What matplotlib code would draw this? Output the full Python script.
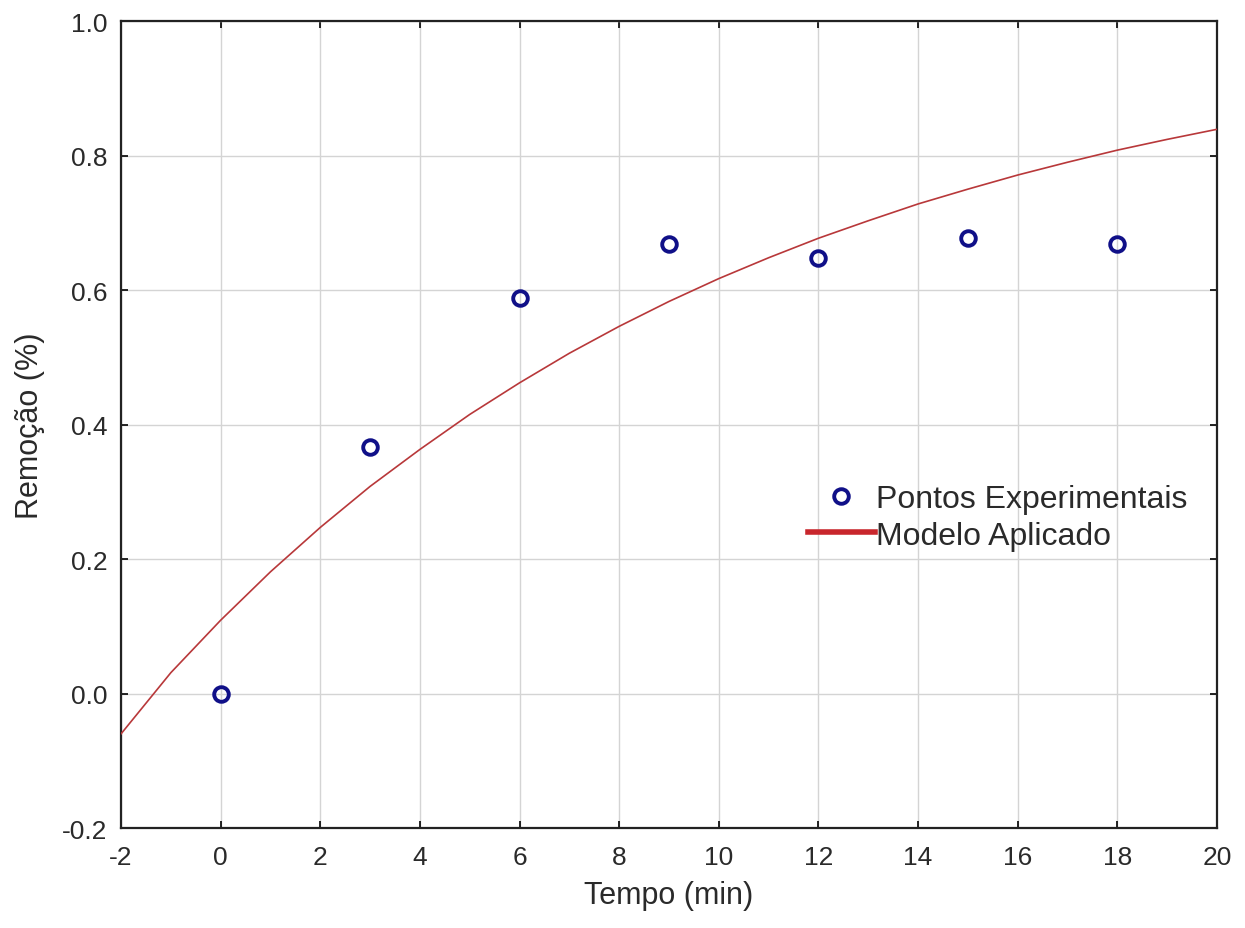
import matplotlib.pyplot as plt
from matplotlib.lines import Line2D

plt.rcParams['font.family'] = ['Liberation Sans', 'DejaVu Sans']
plt.rcParams['axes.unicode_minus'] = False

# pontos experimentais
tempo = [0, 3, 6, 9, 12, 15, 18]
remocao = [0.0, 0.367, 0.588, 0.668, 0.647, 0.677, 0.668]

# curva do modelo
t_modelo = [-2, -1, 0, 1, 2, 3, 4, 5, 6, 7, 8, 9, 10, 11, 12, 13, 14, 15, 16, 17, 18, 19, 20]
y_modelo = [-0.060, 0.031, 0.109, 0.181, 0.247, 0.308, 0.363, 0.415, 0.462, 0.506, 0.546,
            0.583, 0.617, 0.648, 0.677, 0.703, 0.728, 0.750, 0.771, 0.790, 0.808, 0.824, 0.839]

xticks = [-2, 0, 2, 4, 6, 8, 10, 12, 14, 16, 18, 20]
yticks = [-0.2, 0.0, 0.2, 0.4, 0.6, 0.8, 1.0]

texto = '#2a2a2a'

fig = plt.figure(figsize=(12.45, 9.29), dpi=100)
ax = fig.add_axes([0.0972, 0.1076, 0.8803, 0.8687])

ax.plot(t_modelo, y_modelo, color='#b8383a', lw=1.2, zorder=3)
ax.plot(tempo, remocao, 'o', ms=10.5, mfc='none', mec='#101088', mew=2.8, zorder=4)

ax.set_xlim(-2, 20)
ax.set_ylim(-0.2, 1.0)
ax.set_xticks(xticks)
ax.set_yticks(yticks)
ax.set_yticklabels([f'{v:.1f}' for v in yticks])
ax.grid(True, color='#d4d4d4', lw=1)
ax.set_axisbelow(True)
ax.tick_params(direction='in', length=5, width=1.2, labelsize=19, top=True, right=True,
               labelcolor=texto)
ax.tick_params(axis='x', pad=12)
ax.tick_params(axis='y', pad=10)
for s in ax.spines.values():
    s.set_linewidth(1.6)
    s.set_color('#222222')

ax.set_xlabel('Tempo (min)', fontsize=22, labelpad=8, color=texto)
ax.set_ylabel('Remoção (%)', fontsize=22, labelpad=12, color=texto)

handles = [Line2D([], [], marker='o', ls='none', ms=10.5, mfc='none', mec='#101088', mew=2.8),
           Line2D([], [], color='#c8262c', lw=4)]
leg = ax.legend(handles, ['Pontos Experimentais', 'Modelo Aplicado'], loc='center left',
                bbox_to_anchor=(0.615, 0.385), borderaxespad=0, frameon=False, fontsize=23,
                handlelength=2.1, handletextpad=0.05, labelspacing=0.2)
for t in leg.get_texts():
    t.set_color(texto)

fig.savefig('out.png', dpi=100)
